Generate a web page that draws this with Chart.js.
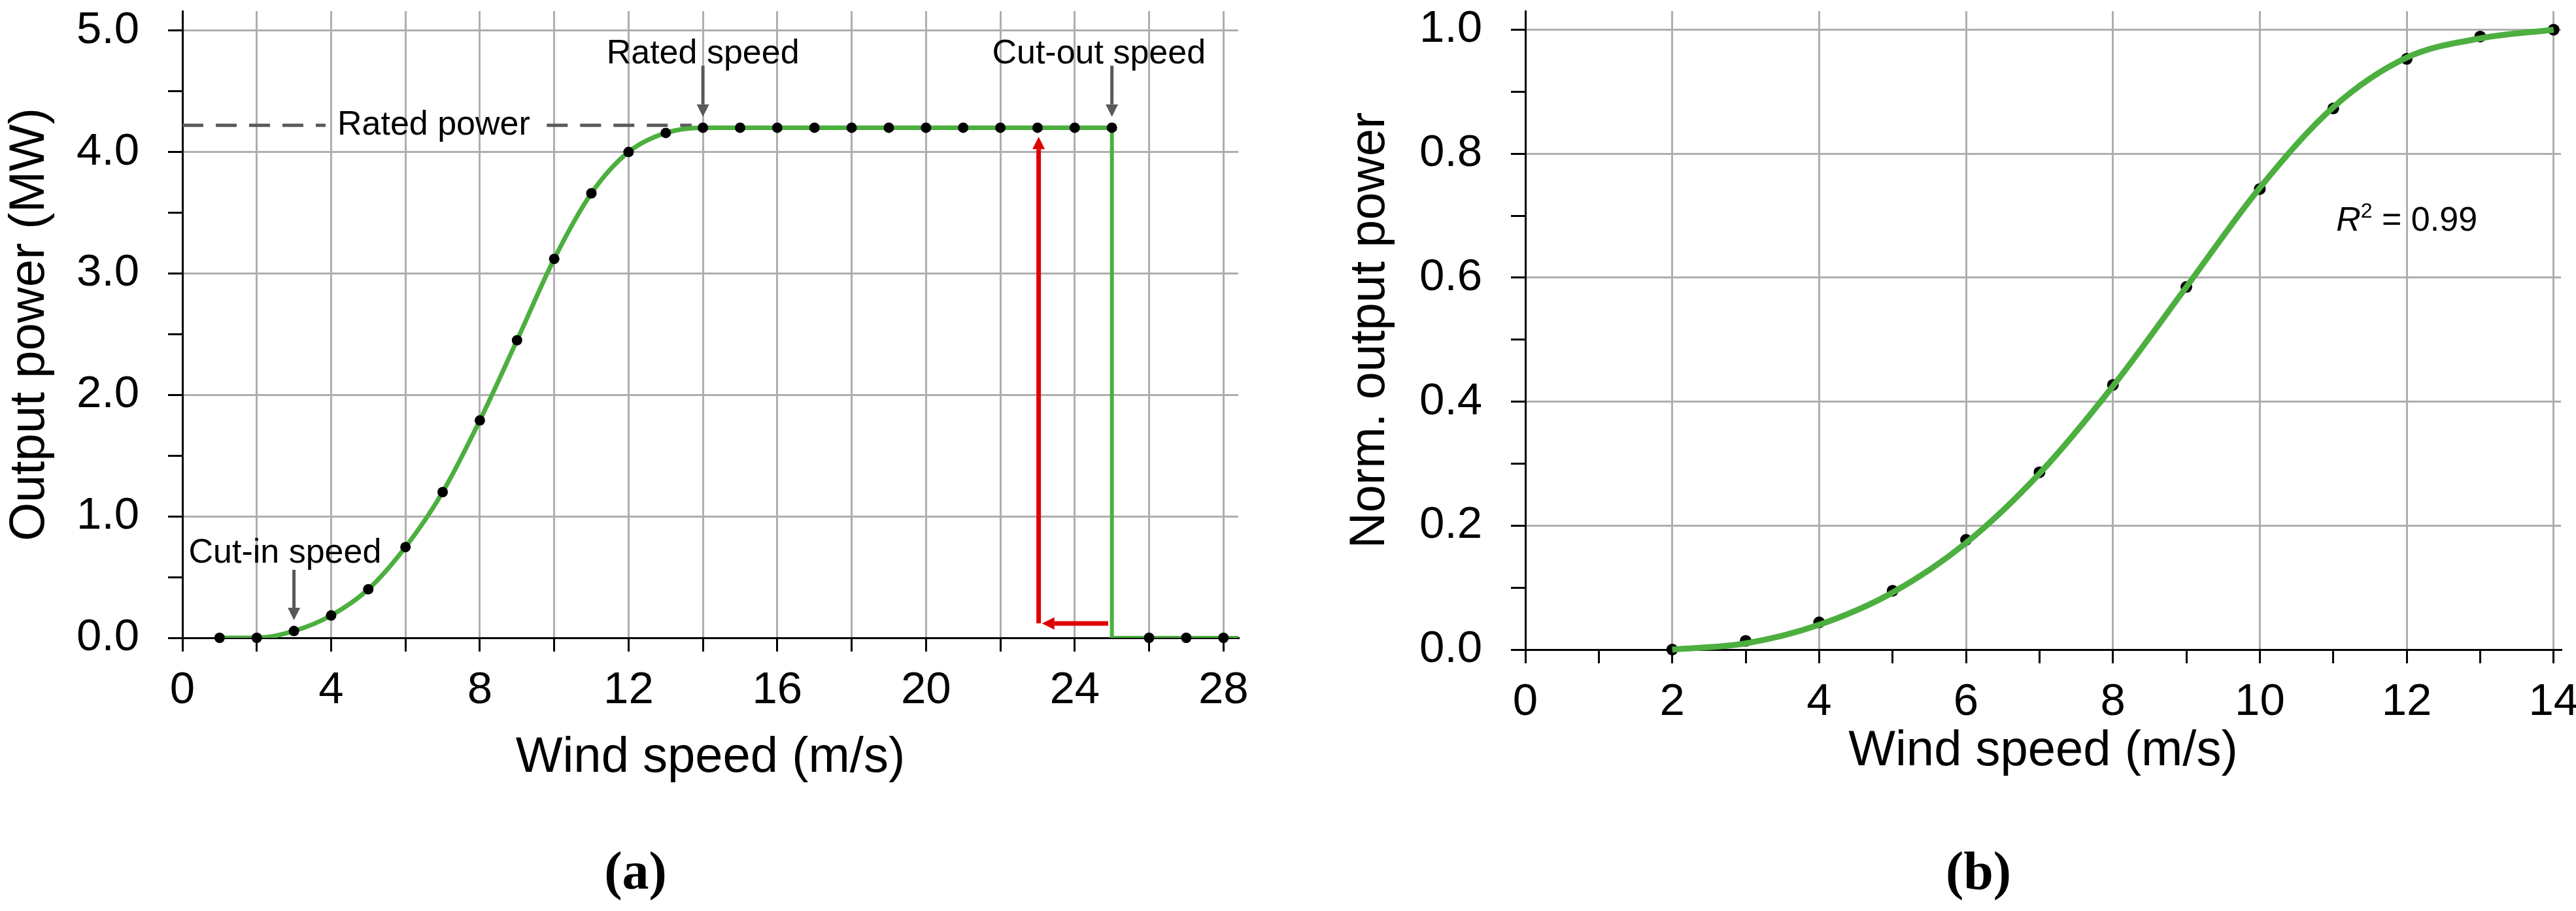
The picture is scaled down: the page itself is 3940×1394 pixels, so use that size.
<!DOCTYPE html>
<html>
<head>
<meta charset="utf-8">
<script src="https://cdn.jsdelivr.net/npm/chart.js@4.4.1/dist/chart.umd.min.js"></script>
<style>
    html, body { margin: 0; padding: 0; background: #fff; width: 3940px; height: 1394px; overflow: hidden; }
    #chartA { position: absolute; left: 0; top: 0; }
    #chartB { position: absolute; left: 2000px; top: 0; }
    .caption { position: absolute; top: 1292px; font-family: "Liberation Serif", "Times New Roman", serif; font-weight: bold; font-size: 82px; line-height: 82px; transform: translateX(-50%); }
</style>
</head>
<body>
<canvas id="chartA" width="1940" height="1394"></canvas>
<canvas id="chartB" width="1940" height="1394"></canvas>
<div class="caption" style="left:972px">(a)</div>
<div class="caption" style="left:3026px">(b)</div>

<script>
// Dados - gráfico (a): curva de potência da turbina
const speedA = [1, 2, 3, 4, 5, 6, 7, 8, 9, 10, 11, 12, 13, 14, 15, 16, 17, 18, 19, 20, 21, 22, 23, 24, 25, 26, 27, 28];
const powerA = [0, 0, 0.056, 0.184, 0.40, 0.747, 1.20, 1.79, 2.45, 3.12, 3.66, 4.0, 4.157, 4.2, 4.2, 4.2, 4.2, 4.2, 4.2, 4.2, 4.2, 4.2, 4.2, 4.2, 4.2, 0, 0, 0];
const cutoutX = [25, 25, 28.4];
const cutoutY = [4.2, 0, 0];
const ratedLineX = [0, 3.85, 6.8, 9.8, 13.7];
const ratedLineY = [4.22, 4.22, null, 4.22, 4.22];
const xTicksA = [0, 2, 4, 6, 8, 10, 12, 14, 16, 18, 20, 22, 24, 26, 28];
const yTicksA = [0, 0.5, 1.0, 1.5, 2.0, 2.5, 3.0, 3.5, 4.0, 4.5, 5.0];

// Dados - gráfico (b): potência normalizada
const speedB = [2, 3, 4, 5, 6, 7, 8, 9, 10, 11, 12, 13, 14];
const normB = [0, 0.014, 0.044, 0.095, 0.177, 0.286, 0.427, 0.585, 0.743, 0.873, 0.953, 0.989, 1.0];
const fitB = [0, 0.010, 0.040, 0.092, 0.172, 0.284, 0.425, 0.585, 0.745, 0.875, 0.955, 0.986, 1.0];
const xTicksB = [0, 1, 2, 3, 4, 5, 6, 7, 8, 9, 10, 11, 12, 13, 14];
const yTicksB = [0, 0.1, 0.2, 0.3, 0.4, 0.5, 0.6, 0.7, 0.8, 0.9, 1.0];

// Anotações (coordenadas em unidades do gráfico)
const labelsA = [
    { text: 'Rated speed', x: 14, y: 4.73 },
    { text: 'Cut-out speed', x: 24.65, y: 4.73 },
    { text: 'Cut-in speed', x: 2.76, y: 0.62 }
];
const pointersA = [
    { x: 14, from: 4.71, to: 4.29 },
    { x: 25, from: 4.71, to: 4.29 },
    { x: 3, from: 0.56, to: 0.145 }
];
const redUp = { x: 23.03, from: 0.12, to: 4.126 };
const redLeft = { y: 0.118, from: 24.9, to: 23.12 };
const ratedLabel = { text: 'Rated power', x: 6.76, y: 4.22 };
const r2Label = { x: 11.04, y: 0.676 };

const FONT = '"Liberation Sans", Arial, sans-serif';
const GRID = '#b0adad';
Chart.defaults.font.family = FONT;
Chart.defaults.color = '#000';

const pts = (xs, ys) => xs.map((x, i) => ({ x: x, y: ys[i] }));

function seta(ctx, x0, y0, x1, y1, cor, w, headLen, headW) {
    const ang = Math.atan2(y1 - y0, x1 - x0);
    const bx = x1 - headLen * Math.cos(ang);
    const by = y1 - headLen * Math.sin(ang);
    ctx.save();
    ctx.strokeStyle = cor;
    ctx.fillStyle = cor;
    ctx.lineWidth = w;
    ctx.beginPath();
    ctx.moveTo(x0, y0);
    ctx.lineTo(bx, by);
    ctx.stroke();
    ctx.beginPath();
    ctx.moveTo(x1, y1);
    ctx.lineTo(bx + headW / 2 * Math.sin(ang), by - headW / 2 * Math.cos(ang));
    ctx.lineTo(bx - headW / 2 * Math.sin(ang), by + headW / 2 * Math.cos(ang));
    ctx.closePath();
    ctx.fill();
    ctx.restore();
}

// Eixos comuns
function eixoX(min, max, ticks, isMajor, hasGrid, height, title) {
    return {
        type: 'linear', min: min, max: max,
        afterBuildTicks: s => { s.ticks = ticks.map(v => ({ value: v })); },
        afterFit: s => { s.height = height; s.paddingLeft = 0; s.paddingRight = 0; },
        ticks: {
            autoSkip: false, maxRotation: 0, minRotation: 0, padding: 19,
            font: { size: 69 }, color: '#000',
            callback: v => isMajor(v) ? String(v) : ''
        },
        grid: {
            color: c => hasGrid(c.tick.value) ? GRID : 'rgba(0,0,0,0)',
            lineWidth: 3, tickColor: '#000', tickWidth: 3, tickLength: 21
        },
        border: { display: true, color: '#000', width: 3 },
        title: { display: true, text: title, font: { size: 76 }, color: '#000', padding: { top: 0, bottom: 0 } }
    };
}

function eixoY(min, max, ticks, isMajor, width, title, titlePad) {
    return {
        type: 'linear', min: min, max: max,
        afterBuildTicks: s => { s.ticks = ticks.map(v => ({ value: v })); },
        afterFit: s => { s.width = width; s.paddingTop = 0; s.paddingBottom = 0; },
        ticks: {
            autoSkip: false, padding: 44, font: { size: 69 }, color: '#000',
            callback: v => isMajor(v) ? v.toFixed(1) : ''
        },
        grid: {
            color: c => isMajor(c.tick.value) ? GRID : 'rgba(0,0,0,0)',
            lineWidth: 3, tickColor: '#000', tickWidth: 3, tickLength: 22
        },
        border: { display: true, color: '#000', width: 3 },
        title: { display: true, text: title, font: { size: 76 }, color: '#000', padding: { top: titlePad, bottom: 0 } }
    };
}

// Plugin de anotações do gráfico (a)
const notasA = {
    id: 'notasA',
    afterDatasetsDraw(chart) {
        const { ctx, scales: { x, y } } = chart;
        ctx.save();
        ctx.fillStyle = '#000';
        ctx.font = '52px ' + FONT;
        ctx.textAlign = 'center';
        ctx.textBaseline = 'alphabetic';
        labelsA.forEach(l => ctx.fillText(l.text, x.getPixelForValue(l.x), y.getPixelForValue(l.y)));
        ctx.textBaseline = 'middle';
        ctx.fillText(ratedLabel.text, x.getPixelForValue(ratedLabel.x), y.getPixelForValue(ratedLabel.y));
        ctx.restore();

        pointersA.forEach(p => {
            const px = x.getPixelForValue(p.x);
            seta(ctx, px, y.getPixelForValue(p.from), px, y.getPixelForValue(p.to), '#595959', 5, 19, 19);
        });
        const rx = x.getPixelForValue(redUp.x);
        seta(ctx, rx, y.getPixelForValue(redUp.from), rx, y.getPixelForValue(redUp.to), '#e00000', 7, 19, 19);
        const ry = y.getPixelForValue(redLeft.y);
        seta(ctx, x.getPixelForValue(redLeft.from), ry, x.getPixelForValue(redLeft.to), ry, '#e00000', 7, 19, 19);
    }
};

// Plugin de anotações do gráfico (b)
const notasB = {
    id: 'notasB',
    afterDatasetsDraw(chart) {
        const { ctx, scales: { x, y } } = chart;
        let px = x.getPixelForValue(r2Label.x);
        const py = y.getPixelForValue(r2Label.y);
        ctx.save();
        ctx.fillStyle = '#000';
        ctx.textAlign = 'left';
        ctx.textBaseline = 'alphabetic';
        ctx.font = 'italic 52px ' + FONT;
        ctx.fillText('R', px, py);
        px += ctx.measureText('R').width;
        ctx.font = '32px ' + FONT;
        ctx.fillText('2', px, py - 20);
        px += ctx.measureText('2').width;
        ctx.font = '52px ' + FONT;
        ctx.fillText(' = 0.99', px, py);
        ctx.restore();
    }
};

new Chart(document.getElementById('chartA'), {
    type: 'scatter',
    data: {
        datasets: [
            {
                data: pts(speedA, powerA),
                pointRadius: 8, pointBackgroundColor: '#000', pointBorderWidth: 0,
                showLine: false, clip: false
            },
            {
                data: pts(speedA.slice(0, 25), powerA.slice(0, 25)),
                showLine: true, borderColor: '#4caf3f', borderWidth: 7,
                cubicInterpolationMode: 'monotone', pointRadius: 0
            },
            {
                data: pts(cutoutX, cutoutY),
                showLine: true, borderColor: '#4caf3f', borderWidth: 6,
                tension: 0, pointRadius: 0
            },
            {
                data: pts(ratedLineX, ratedLineY),
                showLine: true, borderColor: '#595959', borderWidth: 5,
                borderDash: [32, 19], pointRadius: 0, spanGaps: false
            }
        ]
    },
    options: {
        responsive: false, devicePixelRatio: 1, animation: false,
        layout: { padding: { left: 0, top: 17, right: 46, bottom: 188 } },
        plugins: { legend: { display: false }, tooltip: { enabled: false } },
        scales: {
            x: eixoX(0, 28.4, xTicksA, v => v % 4 === 0, v => true, 230, 'Wind speed (m/s)'),
            y: eixoY(0, 5.16, yTicksA, v => Math.abs(v - Math.round(v)) < 1e-6, 279, 'Output power (MW)', 0)
        }
    },
    plugins: [notasA]
});

new Chart(document.getElementById('chartB'), {
    type: 'scatter',
    data: {
        datasets: [
            {
                data: pts(speedB, fitB),
                showLine: true, borderColor: '#4caf3f', borderWidth: 9,
                cubicInterpolationMode: 'monotone', pointRadius: 0, clip: false
            },
            {
                data: pts(speedB, normB),
                pointRadius: 9, pointBackgroundColor: '#000', pointBorderWidth: 0,
                showLine: false, clip: false
            }
        ]
    },
    options: {
        responsive: false, devicePixelRatio: 1, animation: false,
        layout: { padding: { left: 0, top: 17, right: 23, bottom: 198 } },
        plugins: { legend: { display: false }, tooltip: { enabled: false } },
        scales: {
            x: eixoX(0, 14.1, xTicksB, v => v % 2 === 0, v => v % 2 === 0, 202, 'Wind speed (m/s)'),
            y: eixoY(0, 1.03, yTicksB, v => Math.round(v * 10) % 2 === 0, 333, 'Norm. output power', 50)
        }
    },
    plugins: [notasB]
});
</script>
</body>
</html>
